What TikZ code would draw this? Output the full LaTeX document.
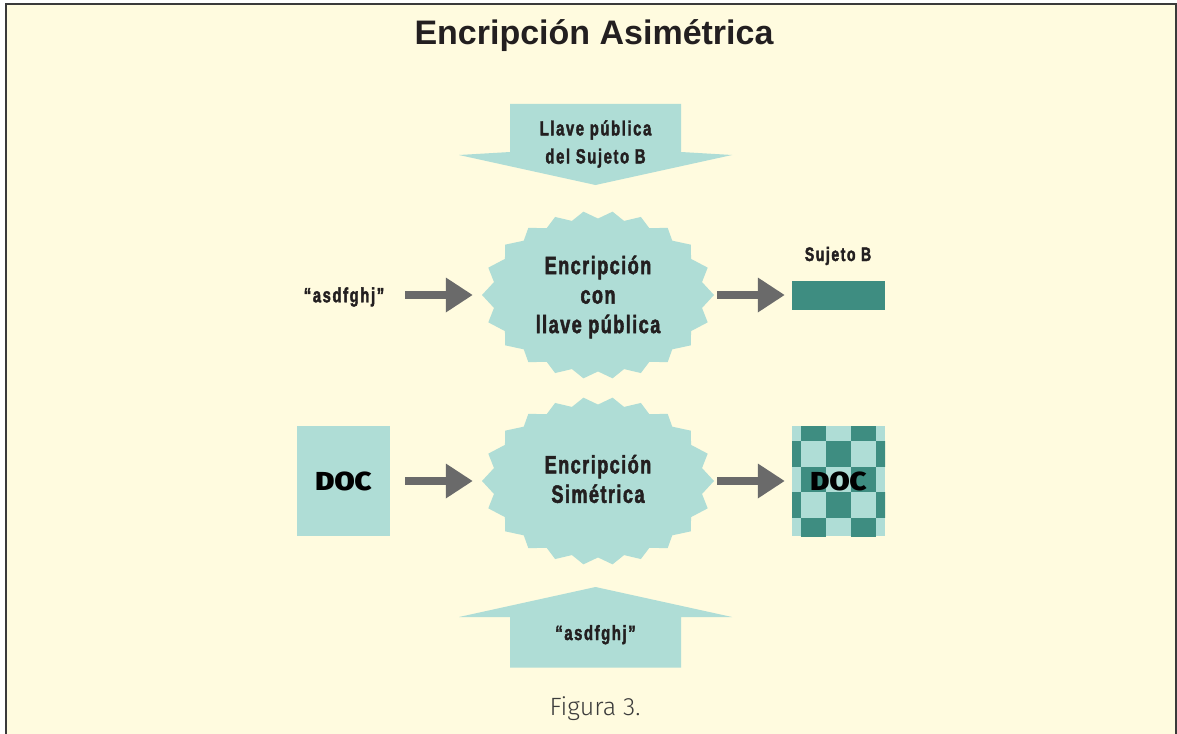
\documentclass[tikz,border=0pt]{standalone}
\usepackage{fontspec}
\setmainfont{Liberation Sans}
\newfontfamily\condfont[FakeStretch=0.72,LetterSpace=6,BoldFeatures={FakeBold=2}]{Liberation Sans}
\newfontfamily\condwide[FakeStretch=0.72,LetterSpace=8,BoldFeatures={FakeBold=2}]{Liberation Sans}
\newfontfamily\heavyfont[FakeStretch=1.12]{Fira Sans Black}
\newfontfamily\lightfont{Fira Sans Light}
\usetikzlibrary{arrows.meta,calc,shapes.geometric}

\definecolor{cream}{HTML}{FFFBDF}
\definecolor{pale}{HTML}{AFDDD6}
\definecolor{deep}{HTML}{3E8D81}
\definecolor{arrowgray}{HTML}{6A6A6A}
\definecolor{ink}{HTML}{231F20}
\definecolor{framegray}{HTML}{3A3A3A}
\definecolor{capgray}{HTML}{3C3C3C}

% vertex angles of the 22-point burst (equal spacing along the ellipse), 1 = tip, 0 = notch
\def\burstlist{9.75/0,19/1,28.2/0,36.8/1,45.3/0,53.1/1,60.9/0,68.3/1,75.7/0,82.8/1,90/0,97.2/1,104.3/0,111.7/1,119.1/0,126.9/1,134.7/0,143.2/1,151.8/0,161/1,170.25/0,180/1,189.75/0,199/1,208.2/0,216.8/1,225.3/0,233.1/1,240.9/0,248.3/1,255.7/0,262.8/1,270/0,277.2/1,284.3/0,291.7/1,299.1/0,306.9/1,314.7/0,323.2/1,331.8/0,341/1,350.25/0}
\newcommand\drawburst[2]{%
  \fill[pale] ({#1+116},#2) \foreach \a/\p in \burstlist
    {-- ({#1+116*(0.91+0.09*\p)*cos(\a)},{#2+84*(0.91+0.09*\p)*sin(\a)})} -- cycle;}

\begin{document}
\begin{tikzpicture}[x=1pt,y=-1pt,
  lbl/.style={font=\condwide\bfseries\fontsize{20.5}{28}\selectfont, text=ink, align=center, inner sep=0},
  burstarea/.style={ellipse, minimum width=232, minimum height=168, inner sep=0},
  burstlbl/.style={font=\condfont\bfseries\fontsize{25}{29.5}\selectfont, text=ink, align=center, inner sep=0},
  docbox/.style={minimum width=93, minimum height=110, inner sep=0,
    font=\heavyfont\fontsize{26}{30}\selectfont, text=black},
  garrow/.style={draw=arrowgray, line width=8pt, -{Triangle[length=27pt,width=33pt]}},
  bigarrow/.style={fill=pale}]

\useasboundingbox (0,0) rectangle (1177,733);
\fill[white] (0,0) rectangle (1177,733);
\draw[line width=2pt, draw=framegray, fill=cream] (6,4) rectangle (1176,760);

% title
\node[font=\bfseries\fontsize{34}{40}\selectfont, text=ink, anchor=base] (title) at (594,45) {Encripción Asimétrica};

% key arrows (down from the top, up from the bottom)
\fill[bigarrow] (510,104) -- (681,104) -- (681,152) -- (732,155) -- (595.5,185) -- (459,155) -- (510,152) -- cycle;
\node[lbl] (pubkey) at (595.5,144) {Llave pública\\del Sujeto B};
\fill[bigarrow] (595.5,587) -- (732,617) -- (681,617) -- (681,667.5) -- (510,667.5) -- (510,617) -- (459,617) -- cycle;
\node[lbl, anchor=base] (symkey) at (595.5,640) {“asdfghj”};

% the two encryption bursts
\drawburst{598}{295}
\node[burstarea] (s1) at (598,295) {};
\node[burstlbl] (s1text) at (598,297) {Encripción\\con\\llave pública};
\drawburst{598}{481}
\node[burstarea] (s2) at (598,481) {};
\node[burstlbl] (s2text) at (598,479) {Encripción\\Simétrica};

% row 1: key text -> public-key encryption -> subject B
\node[lbl, minimum width=80] (q1) at (344,297) {“asdfghj”};
\node[fill=deep, minimum width=93, minimum height=29, inner sep=0] (subj) at (838.5,295) {};
\node[lbl, anchor=base, font=\condwide\bfseries\fontsize{19.5}{22}\selectfont] (subjlbl) at (838,261) {Sujeto B};

% row 2: document -> symmetric encryption -> encrypted document
\node[docbox, fill=pale] (docin) at (343.5,481) {DOC};
\begin{scope}
  \clip (792,426) rectangle (885,536);
  \fill[pale] (792,426) rectangle (885,536);
  \foreach \c in {0,...,4} \foreach \r in {0,...,4} {
    \ifodd\numexpr\c+\r\relax
      \fill[deep] ({776+25*\c},{415.3+25.7*\r}) rectangle ++(25,25.7);
    \fi}
\end{scope}
\node[docbox] (docout) at (838.5,481) {DOC};

% connectors
\draw[garrow, shorten <=21pt, shorten >=9pt] (s1.west -| q1.east) -- (s1.west);
\draw[garrow, shorten <=3pt, shorten >=7pt] (s1.east) -- (subj.west);
\draw[garrow, shorten <=15pt, shorten >=9pt] (s2.west -| docin.east) -- (s2.west);
\draw[garrow, shorten <=3pt, shorten >=7pt] (s2.east) -- (docout.west);

% caption
\node[font=\lightfont\fontsize{25}{30}\selectfont, text=capgray, anchor=base] (caption) at (595,715) {Figura 3.};
\end{tikzpicture}
\end{document}
